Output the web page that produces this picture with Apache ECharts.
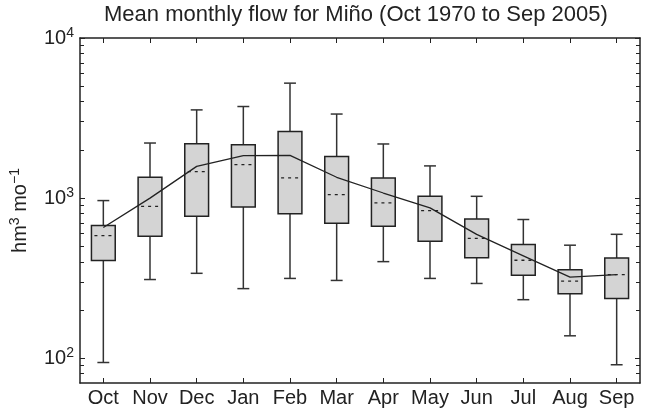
<!DOCTYPE html>
<html lang="en">
<head>
<meta charset="UTF-8">
<title>Mean monthly flow for Miño</title>
<script src="https://cdn.jsdelivr.net/npm/echarts@6/dist/echarts.min.js"></script>
<style>
    html, body { margin: 0; padding: 0; background: #fff; }
    #main { width: 649px; height: 410px; }
</style>
</head>
<body>
<div id="main"></div>
<script>
    // hydrological year, Oct to Sep
    var months = ['Oct', 'Nov', 'Dec', 'Jan', 'Feb', 'Mar', 'Apr', 'May', 'Jun', 'Jul', 'Aug', 'Sep'];
    var whiskerLow = [94, 310, 339, 272, 315, 306, 401, 315, 293, 232, 138, 91];
    var q1 = [408, 578, 771, 881, 798, 697, 667, 538, 424, 330, 253, 236];
    var median = [583, 889, 1462, 1619, 1336, 1052, 933, 836, 560, 409, 303, 333];
    var q3 = [675, 1349, 2188, 2155, 2606, 1816, 1336, 1026, 741, 513, 357, 422];
    var whiskerHigh = [965, 2208, 3556, 3733, 5224, 3350, 2178, 1589, 1026, 735, 508, 594];
    var mean = [655, 1000, 1578, 1841, 1849, 1349, 1076, 869, 593, 436, 321, 333];

    var majorTicks = [100, 1000, 10000];
    var minorTicks = [80, 90, 200, 300, 400, 500, 600, 700, 800, 900,
        2000, 3000, 4000, 5000, 6000, 7000, 8000, 9000];

    var font = '"Liberation Sans", Arial, Helvetica, sans-serif';
    var ink = '#222';

    var boxes = [];
    for (var i = 0; i < months.length; i++) {
        boxes.push([i, whiskerLow[i], q1[i], median[i], q3[i], whiskerHigh[i]]);
    }

    function renderBox(params, api) {
        var i = api.value(0);
        var x = api.coord([i, api.value(3)])[0];
        var yLow = api.coord([i, api.value(1)])[1];
        var yQ1 = api.coord([i, api.value(2)])[1];
        var yMed = api.coord([i, api.value(3)])[1];
        var yQ3 = api.coord([i, api.value(4)])[1];
        var yHigh = api.coord([i, api.value(5)])[1];
        var w = api.size([1, 0], [i, api.value(3)])[0] * 0.51;
        var c = w / 4;
        var ws = { stroke: '#333', lineWidth: 1.5 };
        return {
            type: 'group',
            children: [
                { type: 'line', shape: { x1: x, y1: yHigh, x2: x, y2: yQ3 }, style: ws },
                { type: 'line', shape: { x1: x, y1: yQ1, x2: x, y2: yLow }, style: ws },
                { type: 'line', shape: { x1: x - c, y1: yHigh, x2: x + c, y2: yHigh }, style: ws },
                { type: 'line', shape: { x1: x - c, y1: yLow, x2: x + c, y2: yLow }, style: ws },
                {
                    type: 'rect',
                    shape: { x: x - w / 2, y: yQ3, width: w, height: yQ1 - yQ3 },
                    style: { fill: '#d4d4d4', stroke: ink, lineWidth: 1.5 }
                },
                {
                    type: 'line',
                    shape: { x1: x - w / 2 + 3, y1: yMed, x2: x + w / 2 - 2, y2: yMed },
                    style: { stroke: ink, lineWidth: 1.3, lineDash: [3, 4] }
                }
            ]
        };
    }

    var axisLine = { show: true, onZero: false, lineStyle: { color: ink, width: 1.5 } };
    var tickStyle = { color: ink, width: 1 };

    function supLabel(v) {
        var e = Math.round(Math.log(v) / Math.LN10);
        return '{b|10}{s|' + e + '}';
    }

    var chart = echarts.init(document.getElementById('main'));
    var option = {
        animation: false,
        title: {
            text: 'Mean monthly flow for Miño (Oct 1970 to Sep 2005)',
            left: 104,
            top: 4,
            padding: 0,
            textStyle: { fontFamily: font, fontSize: 22, fontWeight: 'normal', color: ink }
        },
        grid: { left: 76, right: 9, top: 38, bottom: 27 },
        xAxis: [
            {
                type: 'category',
                data: months,
                position: 'bottom',
                axisLine: axisLine,
                axisTick: { show: true, inside: true, alignWithLabel: true, interval: 0, length: 5, lineStyle: tickStyle },
                axisLabel: { interval: 0, fontFamily: font, fontSize: 20, color: ink, margin: 5 },
                splitLine: { show: false }
            },
            {
                type: 'category',
                data: months,
                position: 'top',
                axisLine: axisLine,
                axisTick: { show: true, inside: true, alignWithLabel: true, interval: 0, length: 5, lineStyle: tickStyle },
                axisLabel: { show: false },
                splitLine: { show: false }
            }
        ],
        yAxis: [
            {
                type: 'log',
                logBase: 10,
                min: 70,
                max: 10000,
                position: 'left',
                axisLine: axisLine,
                axisTick: { show: true, inside: true, length: 5, customValues: majorTicks, lineStyle: tickStyle },
                axisLabel: {
                    customValues: majorTicks,
                    margin: 6,
                    formatter: supLabel,
                    rich: {
                        b: { fontFamily: font, fontSize: 20, color: ink, lineHeight: 24 },
                        s: { fontFamily: font, fontSize: 14, color: ink, verticalAlign: 'top', lineHeight: 24, padding: [0, 0, 6, 0] }
                    }
                },
                splitLine: { show: false },
                name: '{b|hm}{s|3}{b| mo}{s|\u22121}',
                nameLocation: 'middle',
                nameRotate: 90,
                nameGap: 48,
                nameTextStyle: {
                    rich: {
                        b: { fontFamily: font, fontSize: 20, color: ink, lineHeight: 24 },
                        s: { fontFamily: font, fontSize: 14, color: ink, verticalAlign: 'top', lineHeight: 24, padding: [0, 0, 6, 0] }
                    }
                }
            },
            {
                type: 'log',
                logBase: 10,
                min: 70,
                max: 10000,
                position: 'left',
                axisLine: { show: false },
                axisTick: { show: true, inside: true, length: 4, customValues: minorTicks, lineStyle: tickStyle },
                axisLabel: { show: false },
                splitLine: { show: false }
            },
            {
                type: 'log',
                logBase: 10,
                min: 70,
                max: 10000,
                position: 'right',
                axisLine: axisLine,
                axisTick: { show: true, inside: true, length: 5, customValues: majorTicks, lineStyle: tickStyle },
                axisLabel: { show: false },
                splitLine: { show: false }
            },
            {
                type: 'log',
                logBase: 10,
                min: 70,
                max: 10000,
                position: 'right',
                axisLine: { show: false },
                axisTick: { show: true, inside: true, length: 4, customValues: minorTicks, lineStyle: tickStyle },
                axisLabel: { show: false },
                splitLine: { show: false }
            }
        ],
        series: [
            {
                type: 'custom',
                name: 'monthly flow',
                renderItem: renderBox,
                data: boxes,
                encode: { x: 0, y: [1, 2, 3, 4, 5] },
                z: 2
            },
            {
                type: 'line',
                name: 'mean',
                data: mean,
                symbol: 'none',
                lineStyle: { color: ink, width: 1.3 },
                z: 3
            }
        ]
    };
    chart.setOption(option);
</script>
</body>
</html>
